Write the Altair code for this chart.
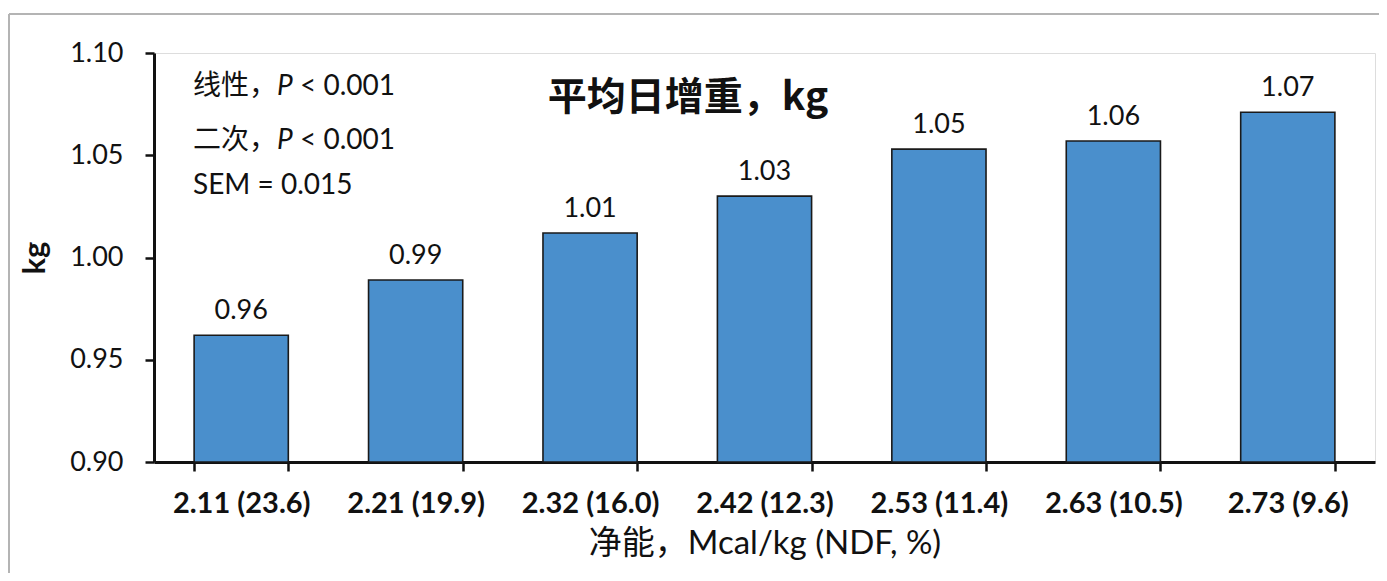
import altair as alt
import pandas as pd

categories = ["2.11 (23.6)", "2.21 (19.9)", "2.32 (16.0)", "2.42 (12.3)",
              "2.53 (11.4)", "2.63 (10.5)", "2.73 (9.6)"]
values = [0.962, 0.989, 1.012, 1.030, 1.053, 1.057, 1.071]
labels = ["0.96", "0.99", "1.01", "1.03", "1.05", "1.06", "1.07"]
y_ticks = [0.90, 0.95, 1.00, 1.05, 1.10]

title_text = "平均日增重，kg"
x_title = "净能，Mcal/kg (NDF, %)"
y_title = "kg"
ann_cn = ["线性，", "二次，"]
ann_p = "P"
ann_val = "< 0.001"
ann_sem = "SEM = 0.015"

df = pd.DataFrame({"cat": categories, "val": values, "lab": labels})

LATIN = "Lato, Noto Sans CJK SC, sans-serif"
CJK = "Noto Sans CJK SC, sans-serif"
W, H = 1221, 409

x_enc = alt.X(
    "cat:N", sort=categories,
    scale=alt.Scale(paddingInner=0.46, paddingOuter=0.23),
    axis=alt.Axis(
        title=x_title, labelAngle=0, labelFont=LATIN, labelFontSize=29,
        labelFontWeight="bold", labelColor="#111", labelPadding=18,
        tickBand="extent", tickSize=9, tickWidth=2.5, tickColor="#111",
        domainColor="#111", domainWidth=3,
        titleFont=LATIN, titleFontSize=33, titleFontWeight="normal",
        titleColor="#111", titlePadding=9,
    ),
)
y_scale = alt.Scale(domain=[0.9, 1.1], zero=False, nice=False)

bars = alt.Chart(df).mark_bar(
    fill="#4A8FCC", stroke="#1a1a1a", strokeWidth=1.6
).encode(
    x=x_enc,
    y=alt.Y("val:Q", scale=y_scale, axis=alt.Axis(
        title=y_title, values=y_ticks, format=".2f", grid=False,
        labelFont=LATIN, labelFontSize=27, labelColor="#111", labelPadding=22,
        tickSize=9, tickWidth=2.5, tickColor="#111",
        domainColor="#111", domainWidth=3,
        titleFont=LATIN, titleFontSize=31, titleFontWeight="bold",
        titleColor="#111", titlePadding=18,
    )),
    y2=alt.datum(0.9),
)

texts = alt.Chart(df).mark_text(
    baseline="bottom", dy=-10, font=LATIN, fontSize=27, color="#111"
).encode(x=alt.X("cat:N", sort=categories), y=alt.Y("val:Q", scale=y_scale), text="lab:N")

title_mark = alt.Chart(pd.DataFrame({"t": [title_text]})).mark_text(
    font=CJK, fontSize=39, fontWeight="bold", color="#111", baseline="middle", align="center"
).encode(x=alt.value(534), y=alt.value(45), text="t:N")

cn = alt.Chart(pd.DataFrame({"t": ann_cn, "yy": [34, 88]})).mark_text(
    font=CJK, fontSize=28, color="#111", baseline="middle", align="left"
).encode(x=alt.value(39), y=alt.Y("yy:Q", scale=None), text="t:N")

pp = alt.Chart(pd.DataFrame({"t": [ann_p, ann_p], "yy": [34, 88]})).mark_text(
    font=LATIN, fontSize=28, fontStyle="italic", color="#111", baseline="middle", align="left"
).encode(x=alt.value(123), y=alt.Y("yy:Q", scale=None), text="t:N")

vv = alt.Chart(pd.DataFrame({"t": [ann_val, ann_val], "yy": [34, 88]})).mark_text(
    font=LATIN, fontSize=28, color="#111", baseline="middle", align="left"
).encode(x=alt.value(146), y=alt.Y("yy:Q", scale=None), text="t:N")

sem = alt.Chart(pd.DataFrame({"t": [ann_sem]})).mark_text(
    font=LATIN, fontSize=28, color="#111", baseline="middle", align="left"
).encode(x=alt.value(39), y=alt.value(133), text="t:N")

frame_top = alt.Chart(pd.DataFrame({"a": [0]})).mark_rule(
    color="#b4b4b4", strokeWidth=2, clip=False
).encode(x=alt.value(-145), x2=alt.value(W + 10), y=alt.value(-39))
frame_left = alt.Chart(pd.DataFrame({"a": [0]})).mark_rule(
    color="#b4b4b4", strokeWidth=2, clip=False
).encode(x=alt.value(-145), y=alt.value(-39), y2=alt.value(H + 115))

chart = alt.layer(
    frame_top, frame_left, bars, texts, title_mark, cn, pp, vv, sem
).properties(
    width=W, height=H,
    padding={"left": 146, "top": 45, "right": 4, "bottom": 111},
    autosize=alt.AutoSizeParams(type="none"),
).configure_view(stroke=None).configure(background="white")

chart.save("out.html", embed_options={"renderer": "svg", "actions": False})
